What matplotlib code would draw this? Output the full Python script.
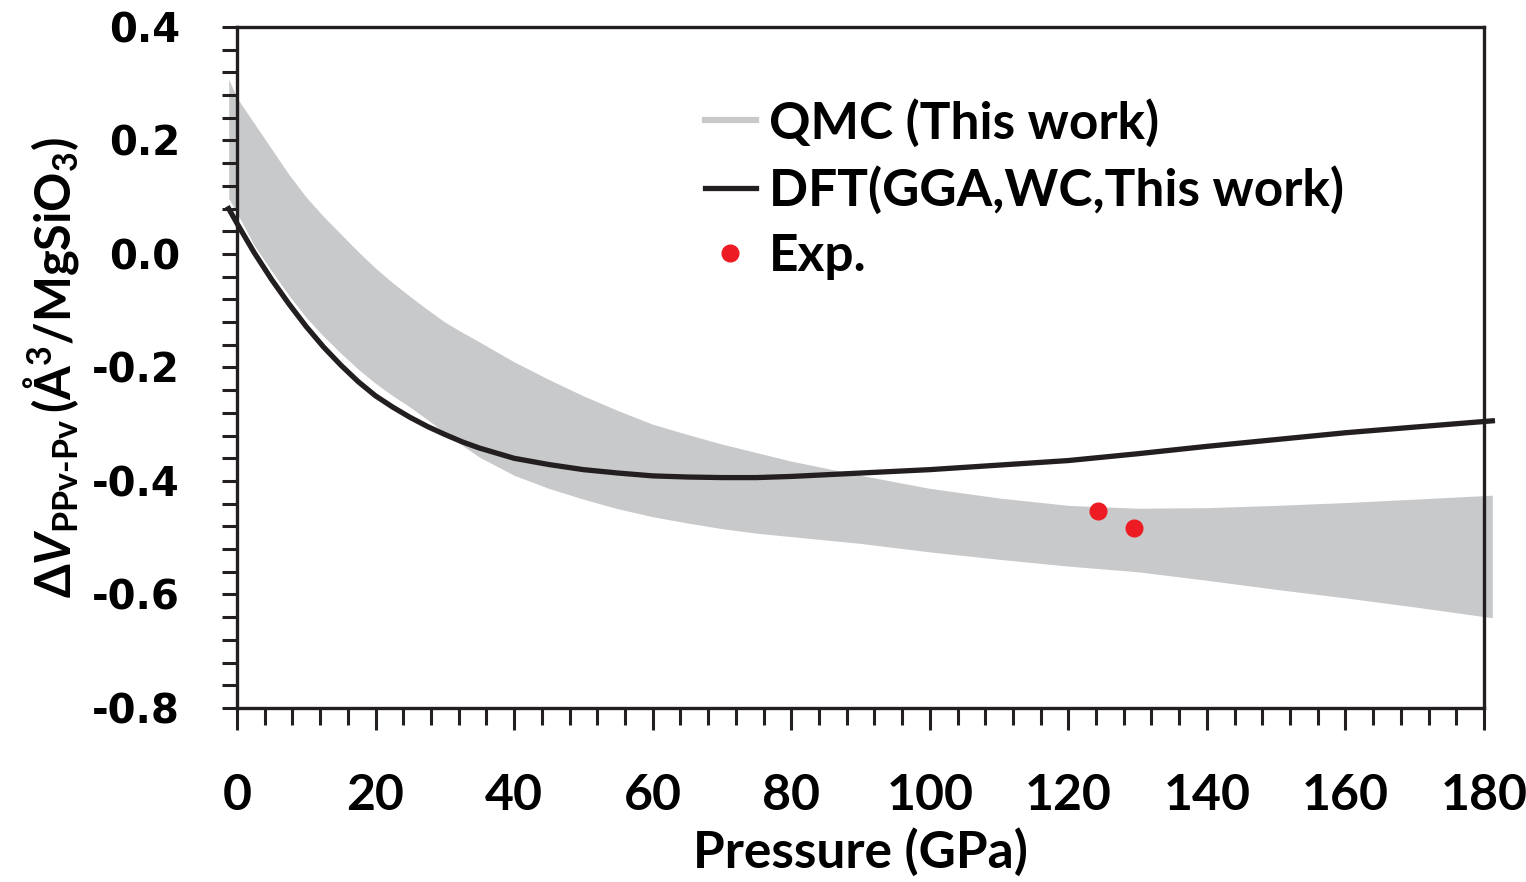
import numpy as np
import matplotlib
matplotlib.use('Agg')
import matplotlib.pyplot as plt
from matplotlib.lines import Line2D

plt.rcParams['font.family'] = ['Lato', 'DejaVu Sans']
plt.rcParams['font.weight'] = 'bold'
plt.rcParams['mathtext.fontset'] = 'custom'
plt.rcParams['mathtext.rm'] = 'Lato:bold'
plt.rcParams['mathtext.it'] = 'Lato:bold:italic'
plt.rcParams['mathtext.bf'] = 'Lato:bold'

# pressure grid (GPa)
p_band = [-1.2, 0, 2.5, 5, 7.5, 10, 12.5, 15, 17.5, 20, 22.5, 25, 27.5, 30,
          32.5, 35, 40, 45, 50, 55, 60, 65, 70, 75, 80, 90, 100, 110, 120,
          130, 140, 150, 160, 170, 181.2]
# QMC band edges
qmc_upper = [0.308, 0.275, 0.230, 0.185, 0.140, 0.100, 0.066, 0.035, 0.004,
             -0.025, -0.051, -0.075, -0.098, -0.120, -0.138, -0.155, -0.190,
             -0.221, -0.250, -0.276, -0.300, -0.318, -0.335, -0.350, -0.365,
             -0.390, -0.413, -0.430, -0.443, -0.448, -0.447, -0.443, -0.438,
             -0.432, -0.425]
qmc_lower = [0.098, 0.072, 0.015, -0.030, -0.073, -0.112, -0.145, -0.175,
             -0.203, -0.228, -0.250, -0.270, -0.292, -0.315, -0.337, -0.358,
             -0.390, -0.413, -0.432, -0.449, -0.463, -0.474, -0.484, -0.492,
             -0.498, -0.510, -0.525, -0.538, -0.550, -0.560, -0.575, -0.591,
             -0.606, -0.622, -0.641]
# DFT (GGA, WC)
dft = [0.080, 0.054, 0.002, -0.045, -0.088, -0.128, -0.164, -0.196, -0.225,
       -0.250, -0.270, -0.288, -0.304, -0.318, -0.331, -0.342, -0.360, -0.371,
       -0.380, -0.386, -0.391, -0.393, -0.394, -0.394, -0.392, -0.386, -0.380,
       -0.372, -0.364, -0.352, -0.339, -0.327, -0.315, -0.305, -0.294]

# experiment
p_exp = [124.3, 129.5]
v_exp = [-0.453, -0.482]

xticks = [0, 20, 40, 60, 80, 100, 120, 140, 160, 180]
yticks = [-0.8, -0.6, -0.4, -0.2, 0.0, 0.2, 0.4]
ytick_labels = ['-0.8', '-0.6', '-0.4', '-0.2', '0.0', '0.2', '0.4']

gray = '#c8c9cb'
black = '#231f20'
red = '#ed1c24'

fig = plt.figure(figsize=(15.26, 8.82), dpi=100)
ax = fig.add_axes([0.1553, 0.1973, 0.8172, 0.7721])

ax.fill_between(p_band, qmc_lower, qmc_upper, color=gray, lw=0, clip_on=False, zorder=1)
ax.plot(p_band, dft, color=black, lw=3.8, clip_on=False, zorder=2,
        solid_joinstyle='round')
ax.plot(p_exp, v_exp, 'o', color=red, ms=12, zorder=3)

ax.set_xlim(0, 180)
ax.set_ylim(-0.8, 0.4)
ax.set_xticks(xticks)
ax.set_xticks(np.arange(0, 181, 4), minor=True)
ax.set_yticks(yticks)
ax.set_yticks(np.linspace(-0.8, 0.4, 31), minor=True)
ax.set_xticklabels([str(v) for v in xticks], fontsize=36, weight='bold')
ax.set_yticklabels(ytick_labels, family='DejaVu Sans', weight='bold', fontsize=29)

for s in ax.spines.values():
    s.set_linewidth(2.4)
    s.set_color(black)

ax.tick_params(axis='x', which='major', direction='out', length=16, width=2.2,
               color=black, pad=31)
ax.tick_params(axis='x', which='minor', direction='out', length=12, width=2.2, color=black)
ax.tick_params(axis='y', which='both', direction='out', length=11, width=2.2,
               color=black, pad=30)

ax.set_xlabel('Pressure (GPa)', fontsize=37, weight='bold', labelpad=7)
ax.set_ylabel(r'$\Delta V_{\mathrm{PPv\text{-}Pv}}\,(\mathrm{\AA^3/MgSiO_3})$',
              fontsize=35, labelpad=8)

handles = [Line2D([], [], color=gray, lw=4.5),
           Line2D([], [], color=black, lw=3.8),
           Line2D([], [], color=red, marker='o', ls='none', ms=12)]
labels = ['QMC (This work)', 'DFT(GGA,WC,This work)', 'Exp.']
ax.legend(handles, labels, loc='upper left', bbox_to_anchor=(0.375, 0.895),
          frameon=False, fontsize=37, handlelength=1.0, handletextpad=0.25,
          labelspacing=0.36, borderaxespad=0, borderpad=0)

fig.savefig('out.png', dpi=100)
